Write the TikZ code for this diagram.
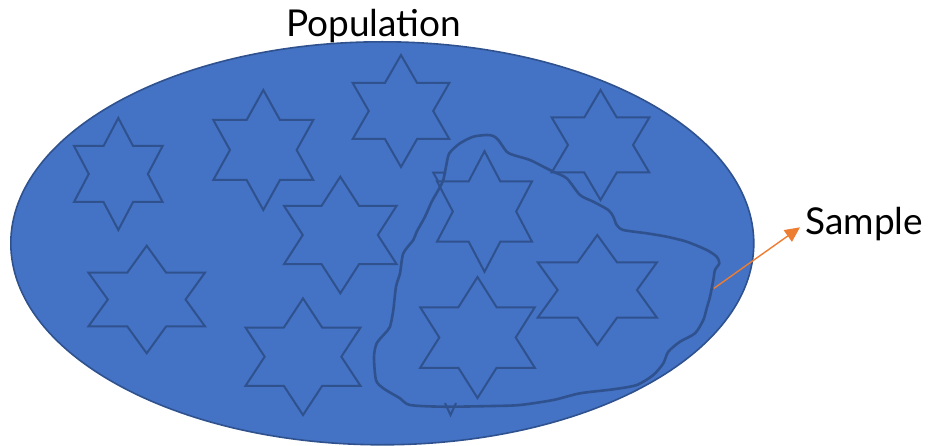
\documentclass[tikz,border=0pt]{standalone}
\usepackage{fontspec}
\setmainfont{Lato}
\usetikzlibrary{arrows.meta}
\definecolor{popfill}{HTML}{4472C4}
\definecolor{popline}{HTML}{2F528F}
\definecolor{arrorange}{HTML}{ED7D31}
\tikzset{
  starline/.style={fill=popfill, draw=popline, line width=2pt, line join=miter},
  fragline/.style={draw=popline, line width=2pt},
  sampleline/.style={draw=popline, line width=2.6pt, line join=round, line cap=round},
  labeltext/.style={font=\fontsize{37}{42}\selectfont, text=black, inner sep=0pt, anchor=base},
  orangearrow/.style={draw=arrorange, line width=1.4pt, -{Triangle[length=15pt,width=14pt]}}
}
\newcommand\hexstar[4]{%
  \begin{scope}[shift={(#1,#2)},xscale=#3,yscale=#4]
    \filldraw[starline] (0,-1) -- (1/3,-0.5) -- (1,-0.5) -- (2/3,0) -- (1,0.5) -- (1/3,0.5)
      -- (0,1) -- (-1/3,0.5) -- (-1,0.5) -- (-2/3,0) -- (-1,-0.5) -- (-1/3,-0.5) -- cycle;
  \end{scope}}
\begin{document}
\begin{tikzpicture}[x=1pt,y=-1pt]
\useasboundingbox (0,0) rectangle (931,446);
% population ellipse
\filldraw[fill=popfill, draw=popline, line width=1.6pt] (382.3,243.3) ellipse [x radius=371.5pt, y radius=201.5pt];
% hidden fragments
\draw[fragline] (446,172.7) -- (433.3,172.7) -- (440.5,185.5);
\draw[fragline] (445,403) -- (450.5,415) -- (456,403);
% stars
\hexstar{118.3}{174}{44.3}{56}
\hexstar{263.3}{150}{50}{60}
\hexstar{401}{111}{48.3}{56}
\hexstar{600.5}{145}{48.8}{55}
\hexstar{340.3}{235}{56.3}{58.3}
\hexstar{146.7}{299.5}{58.3}{53.8}
\hexstar{477.5}{337.5}{57.3}{60.5}
\hexstar{484.5}{211.5}{47.5}{60.3}
\hexstar{597.3}{290}{59.5}{55}
\hexstar{303}{356.7}{57.5}{58.3}
% sample boundary
\draw[sampleline] plot[smooth cycle, tension=0.45] coordinates {
 (486.7,135) (473.3,136.7) (460,143.3) (449.3,153.3) (446,166.7) (443.3,180)
 (439.3,188.3) (431.7,201.7) (425,216.7) (416.7,231.7) (413.3,240) (403.3,253.3)
 (400,273.3) (396,286.7) (393.3,310) (390,326.7) (385,333.3) (376.7,343.3)
 (374,356.7) (376,380) (383.3,388.3) (400,398.3) (410,405) (443.3,406.7)
 (493.3,406) (520,405) (553.3,400) (580,393.3) (613.3,389.3) (636.7,385)
 (653.3,375) (663.3,363.3) (668.3,351.7) (680,341.7) (695,333.3) (703.3,320)
 (706.7,308.3) (710,296.7) (713.3,280) (715,270) (719.3,263.3) (716.7,256.7)
 (706.7,250) (686.7,241.7) (666.7,236.7) (646.7,233.3) (623.3,230) (616.7,225)
 (613.3,216.7) (608.3,210) (593.3,201.7) (580,195) (566.7,178.3) (553.3,171.7)
 (543.3,166.7) (530,160) (513.3,155) (506.7,151.7) (498.3,140) (493.3,136)};
% labels
\node[labeltext] (pop) at (373.5,37) {Population};
\node[labeltext] (samp) at (864.3,235) {Sample};
\coordinate (arrstart) at (714,288.3);
\coordinate (arrend) at (800,227.3);
\draw[orangearrow] (arrstart) -- (arrend);
\end{tikzpicture}
\end{document}
